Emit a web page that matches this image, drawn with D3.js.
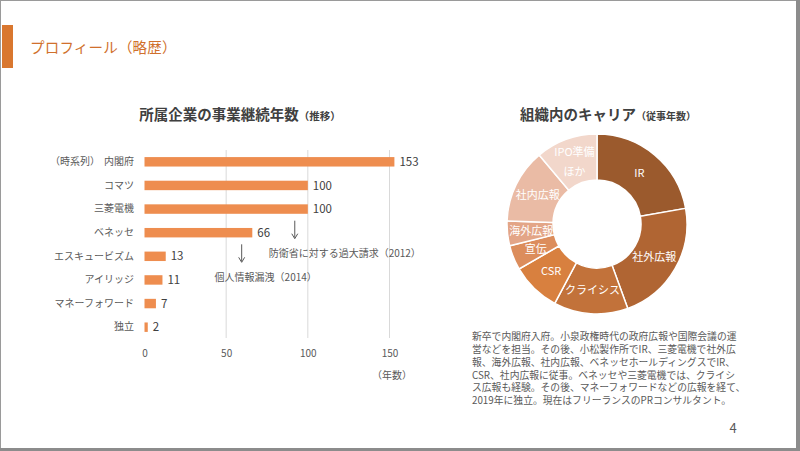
<!DOCTYPE html>
<html><head><meta charset="utf-8">
<script src="https://cdn.jsdelivr.net/npm/d3@7/dist/d3.min.js"></script>
<style>
html,body{margin:0;padding:0;background:#fff;}
svg{display:block;font-family:"Noto Sans CJK JP","Noto Sans",sans-serif;}
</style></head>
<body>
<svg id="c" width="800" height="451"></svg>
<script>
// ---- data ----
const companies = ["内閣府","コマツ","三菱電機","ベネッセ","エスキュービズム","アイリッジ","マネーフォワード","独立"];
const years = [153,100,100,66,13,11,7,2];
const xTicks = [0,50,100,150];
const careerLabels = ["IR","社外広報","クライシス","CSR","宣伝","海外広報","社内広報","IPO準備\nほか"];
const careerYears = [5,5,3,2,1,1,3,2.5];
const careerColors = ["#9B5A2D","#B06533","#C2723A","#D8803F","#DC8D5C","#E3A587","#EABBA5","#F2D7CB"];
const annotations = [
  {at:92, text:"防衛省に対する過大請求（2012）", row:3},
  {at:59.5, text:"個人情報漏洩（2014）", row:4}
];
const bio = [
  "新卒で内閣府入府。小泉政権時代の政府広報や国際会議の運",
  "営などを担当。その後、小松製作所でIR、三菱電機で社外広",
  "報、海外広報、社内広報、ベネッセホールディングスでIR、",
  "CSR、社内広報に従事。ベネッセや三菱電機では、クライシ",
  "ス広報も経験。その後、マネーフォワードなどの広報を経て、",
  "2019年に独立。現在はフリーランスのPRコンサルタント。"
];

const svg = d3.select("#c");

// frame
svg.append("rect").attr("x",0).attr("y",0).attr("width",800).attr("height",451).attr("fill","#fff");
svg.append("line").attr("x1",0.5).attr("x2",0.5).attr("y1",0).attr("y2",451).attr("stroke","#9a9a9a").attr("stroke-width",1);
svg.append("line").attr("x1",0).attr("x2",800).attr("y1",0.5).attr("y2",0.5).attr("stroke","#9a9a9a").attr("stroke-width",1);
svg.append("rect").attr("x",796).attr("y",0).attr("width",4).attr("height",451).attr("fill","#8c8c8c");
svg.append("rect").attr("x",0).attr("y",448).attr("width",800).attr("height",3).attr("fill","#8c8c8c");

// header
svg.append("rect").attr("x",2).attr("y",25).attr("width",11).attr("height",43).attr("fill","#D9772F");
svg.append("text").attr("x",30).attr("y",53).attr("font-size",14.5).attr("letter-spacing",0.2)
  .attr("fill","#D0702C").text("プロフィール（略歴）");

// ---- bar chart ----
const x = d3.scaleLinear().domain([0,150]).range([144.5,389.5]);
const y = d3.scaleBand().domain(companies).range([150,339]).paddingInner(0.6).paddingOuter(0.3);

const t1 = svg.append("text").attr("x",240).attr("y",120).attr("text-anchor","middle").attr("fill","#404040");
t1.append("tspan").attr("font-size",14.5).attr("font-weight","bold").text("所属企業の事業継続年数");
t1.append("tspan").attr("font-size",10.5).attr("font-weight","bold").text("（推移）");

// gridlines
svg.append("g").selectAll("line").data(xTicks.filter(d=>d>0)).join("line")
  .attr("x1",d=>x(d)).attr("x2",d=>x(d)).attr("y1",150).attr("y2",338)
  .attr("stroke","#d9d9d9").attr("stroke-width",1);

// axis
const ax = svg.append("g").attr("transform","translate(0,353)")
  .call(d3.axisBottom(x).tickValues(xTicks).tickSize(0).tickPadding(0));
ax.select(".domain").remove();
ax.selectAll("text").attr("font-size",10).attr("fill","#595959")
  .attr("font-family","'Noto Sans CJK JP','Noto Sans',sans-serif").attr("dy","0.35em");

const ay = svg.append("g").attr("transform","translate(134,0)")
  .call(d3.axisLeft(y).tickSize(0).tickPadding(0));
ay.select(".domain").remove();
ay.selectAll("text").attr("font-size",10).attr("fill","#595959")
  .attr("font-family","'Noto Sans CJK JP','Noto Sans',sans-serif");

svg.append("text").attr("x",50).attr("y",y(companies[0])+y.bandwidth()/2).attr("dy","0.35em")
  .attr("font-size",10).attr("fill","#595959").text("（時系列）");

svg.append("g").selectAll("rect").data(years).join("rect")
  .attr("x",x(0)).attr("y",(d,i)=>y(companies[i]))
  .attr("width",d=>x(d)-x(0)).attr("height",y.bandwidth())
  .attr("fill","#EE8D4F");

svg.append("g").selectAll("text").data(years).join("text")
  .attr("x",d=>x(d)+5).attr("y",(d,i)=>y(companies[i])+y.bandwidth()/2).attr("dy","0.36em")
  .attr("font-size",11.5).attr("fill","#404040").text(d=>d);

svg.append("text").attr("x",392).attr("y",375).attr("dy","0.35em").attr("text-anchor","middle")
  .attr("font-size",10).attr("fill","#595959").text("（年数）");

// annotations
annotations.forEach(a=>{
  const yc = y(companies[a.row]) + y.bandwidth()/2;
  const ax0 = x(a.at);
  const g = svg.append("g");
  g.append("line").attr("x1",ax0).attr("x2",ax0).attr("y1",yc-12).attr("y2",yc+5)
    .attr("stroke","#595959").attr("stroke-width",1);
  g.append("path").attr("d",`M${ax0-3},${yc+1} L${ax0},${yc+6} L${ax0+3},${yc+1}`)
    .attr("fill","none").attr("stroke","#595959").attr("stroke-width",1);
  g.append("text").attr("x",ax0+(a.row===3?50:24)).attr("y",yc+21).attr("dy","0.35em")
    .attr("text-anchor","middle").attr("font-size",10).attr("fill","#595959").text(a.text);
});

// ---- donut ----
const t2 = svg.append("text").attr("x",608).attr("y",120).attr("text-anchor","middle").attr("fill","#404040");
t2.append("tspan").attr("font-size",14.5).attr("font-weight","bold").text("組織内のキャリア");
t2.append("tspan").attr("font-size",10).attr("font-weight","bold").text("（従事年数）");

const cx = 597, cy = 224;
const pie = d3.pie().sort(null).value(d=>d)(careerYears);
const arc = d3.arc().innerRadius(44).outerRadius(90);
const labelArc = d3.arc().innerRadius(66).outerRadius(66);
const dg = svg.append("g").attr("transform",`translate(${cx},${cy})`);
dg.selectAll("path").data(pie).join("path")
  .attr("d",arc).attr("fill",(d,i)=>careerColors[i])
  .attr("stroke","#fff").attr("stroke-width",1.5);
dg.selectAll("text").data(pie).join("text")
  .attr("transform",d=>`translate(${labelArc.centroid(d)})`)
  .attr("text-anchor","middle").attr("font-size",11).attr("fill","#fff")
  .each(function(d,i){
    const lines = careerLabels[i].split("\n");
    const sel = d3.select(this);
    lines.forEach((l,k)=>{
      sel.append("tspan").attr("x",0)
        .attr("dy", k===0 ? (0.35 - (lines.length-1)*0.9)+"em" : "1.8em")
        .text(l);
    });
  });

// ---- bio text ----
svg.append("g").selectAll("text").data(bio).join("text")
  .attr("x",472).attr("y",(d,i)=>337+i*12.7).attr("dy","0.35em")
  .attr("font-size",9.8).attr("fill","#595959").text(d=>d);

svg.append("text").attr("x",733).attr("y",428).attr("dy","0.35em").attr("text-anchor","middle")
  .attr("font-size",13).attr("fill","#595959").text("4");
</script>
</body></html>
